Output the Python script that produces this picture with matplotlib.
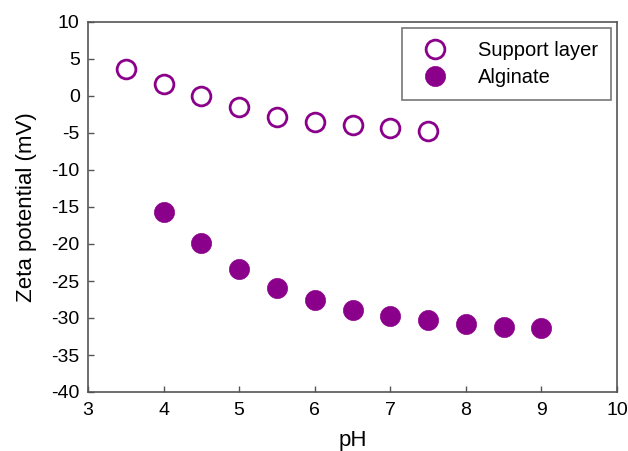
import matplotlib
matplotlib.use("Agg")
import matplotlib.pyplot as plt

plt.rcParams['font.family'] = ['Liberation Sans', 'DejaVu Sans']
plt.rcParams['axes.unicode_minus'] = False

ph_support = [3.5, 4.0, 4.5, 5.0, 5.5, 6.0, 6.5, 7.0, 7.5]
zeta_support = [3.6, 1.6, 0.0, -1.5, -2.8, -3.5, -3.9, -4.3, -4.7]

ph_alginate = [4.0, 4.5, 5.0, 5.5, 6.0, 6.5, 7.0, 7.5, 8.0, 8.5, 9.0]
zeta_alginate = [-15.7, -19.9, -23.4, -25.9, -27.6, -28.9, -29.7, -30.3, -30.8, -31.2, -31.4]

xticks = [3, 4, 5, 6, 7, 8, 9, 10]
yticks = [10, 5, 0, -5, -10, -15, -20, -25, -30, -35, -40]

purple = '#8B008B'

fig = plt.figure(figsize=(6.28, 4.51), dpi=100)
ax = fig.add_axes([88/628, 1 - 392/451, (617-88)/628, (392-22)/451])

ax.plot(ph_support, zeta_support, linestyle='none', marker='o', markersize=13.5,
        markerfacecolor='white', markeredgecolor=purple, markeredgewidth=2.0,
        label='Support layer')
ax.plot(ph_alginate, zeta_alginate, linestyle='none', marker='o', markersize=14.5,
        markerfacecolor=purple, markeredgecolor=purple, markeredgewidth=0.5,
        label='Alginate')

ax.set_xlim(3, 10)
ax.set_ylim(-40, 10)
ax.set_xticks(xticks)
ax.set_yticks(yticks)
ax.tick_params(direction='in', length=4, width=1, labelsize=14, color='#555555',
               top=False, right=False)
ax.tick_params(axis='x', pad=7)
ax.tick_params(axis='y', pad=6)
for s in ax.spines.values():
    s.set_color('#555555')
    s.set_linewidth(1.2)

ax.set_xlabel('pH', fontsize=16, labelpad=8)
ax.set_ylabel('Zeta potential (mV)', fontsize=16, labelpad=10)

leg = ax.legend(loc='upper right', fontsize=14.5, frameon=True, fancybox=False,
                edgecolor='#555555', borderpad=0.65, handletextpad=1.1,
                labelspacing=0.4, borderaxespad=0.3, markerscale=1.0,
                handlelength=2.0)
leg.get_frame().set_linewidth(1.2)

fig.savefig('out.png', dpi=100)
